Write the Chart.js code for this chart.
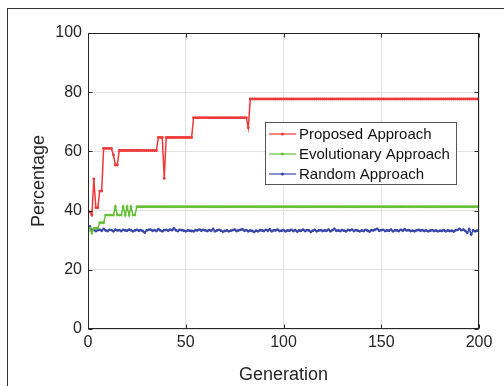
<!DOCTYPE html>
<html>
<head>
<meta charset="utf-8">
<script src="https://cdn.jsdelivr.net/npm/chart.js@4/dist/chart.umd.min.js"></script>
<style>
  html,body{margin:0;padding:0;background:#fff;overflow:hidden;}
  #wrap{position:relative;width:504px;height:386px;}
  #frame{position:absolute;left:7px;top:8px;width:600px;height:500px;border-left:1px solid #333;border-top:1px solid #333;pointer-events:none;}
  canvas{position:absolute;left:0;top:0;}
</style>
</head>
<body>
<div id="wrap">
  <canvas id="c" width="504" height="386"></canvas>
  <div id="frame"></div>
</div>
<script>
// ---- data ----
const seriesNames = ['Proposed Approach', 'Evolutionary Approach', 'Random Approach'];
const xTicks = [0, 50, 100, 150, 200];
const yTicks = [0, 20, 40, 60, 80, 100];

// Proposed approach, generations 0..200
const proposed = [
  39.6, 39.6, 38.5, 50.7, 41, 41, 46.6, 46.6, 61, 61, 61, 61, 61, 58.8, 55.4, 55.4, 60.3,
  60.3, 60.3, 60.3, 60.3, 60.3, 60.3, 60.3, 60.3, 60.3, 60.3, 60.3, 60.3, 60.3, 60.3, 60.3, 60.3, 60.3, 60.3, 60.3,
  64.7, 64.7, 64.7, 50.9,
  64.7, 64.7, 64.7, 64.7, 64.7, 64.7, 64.7, 64.7, 64.7, 64.7, 64.7, 64.7, 64.7, 64.7,
  71.4, 71.4, 71.4, 71.4, 71.4, 71.4, 71.4, 71.4, 71.4, 71.4, 71.4, 71.4, 71.4, 71.4,
  71.4, 71.4, 71.4, 71.4, 71.4, 71.4, 71.4, 71.4, 71.4, 71.4, 71.4, 71.4, 71.4, 71.4,
  68,
  77.7, 77.7, 77.7, 77.7, 77.7, 77.7, 77.7, 77.7, 77.7, 77.7, 77.7, 77.7, 77.7, 77.7, 77.7, 77.7, 77.7,
  77.7, 77.7, 77.7, 77.7, 77.7, 77.7, 77.7, 77.7, 77.7, 77.7, 77.7, 77.7, 77.7, 77.7, 77.7, 77.7, 77.7,
  77.7, 77.7, 77.7, 77.7, 77.7, 77.7, 77.7, 77.7, 77.7, 77.7, 77.7, 77.7, 77.7, 77.7, 77.7, 77.7, 77.7,
  77.7, 77.7, 77.7, 77.7, 77.7, 77.7, 77.7, 77.7, 77.7, 77.7, 77.7, 77.7, 77.7, 77.7, 77.7, 77.7, 77.7,
  77.7, 77.7, 77.7, 77.7, 77.7, 77.7, 77.7, 77.7, 77.7, 77.7, 77.7, 77.7, 77.7, 77.7, 77.7, 77.7, 77.7,
  77.7, 77.7, 77.7, 77.7, 77.7, 77.7, 77.7, 77.7, 77.7, 77.7, 77.7, 77.7, 77.7, 77.7, 77.7, 77.7, 77.7,
  77.7, 77.7, 77.7, 77.7, 77.7, 77.7, 77.7, 77.7, 77.7, 77.7, 77.7, 77.7, 77.7, 77.7, 77.7, 77.7
];

// Evolutionary approach, generations 0..200
const evolutionary = [
  34, 34, 32.4, 34, 34, 34, 35.9, 35.9, 35.9, 38.5, 38.5, 38.5, 38.5, 38.5, 41.3, 38.5, 38.5, 38.5, 41.3, 38.5,
  41.3, 38.5, 41.3, 38.5, 38.5, 41.3,
  41.3, 41.3, 41.3, 41.3, 41.3, 41.3, 41.3, 41.3, 41.3, 41.3, 41.3, 41.3, 41.3, 41.3, 41.3, 41.3, 41.3, 41.3, 41.3, 41.3, 41.3, 41.3, 41.3, 41.3, 41.3, 41.3, 41.3, 41.3, 41.3,
  41.3, 41.3, 41.3, 41.3, 41.3, 41.3, 41.3, 41.3, 41.3, 41.3, 41.3, 41.3, 41.3, 41.3, 41.3, 41.3, 41.3, 41.3, 41.3, 41.3, 41.3, 41.3, 41.3, 41.3, 41.3,
  41.3, 41.3, 41.3, 41.3, 41.3, 41.3, 41.3, 41.3, 41.3, 41.3, 41.3, 41.3, 41.3, 41.3, 41.3, 41.3, 41.3, 41.3, 41.3, 41.3, 41.3, 41.3, 41.3, 41.3, 41.3,
  41.3, 41.3, 41.3, 41.3, 41.3, 41.3, 41.3, 41.3, 41.3, 41.3, 41.3, 41.3, 41.3, 41.3, 41.3, 41.3, 41.3, 41.3, 41.3, 41.3, 41.3, 41.3, 41.3, 41.3, 41.3,
  41.3, 41.3, 41.3, 41.3, 41.3, 41.3, 41.3, 41.3, 41.3, 41.3, 41.3, 41.3, 41.3, 41.3, 41.3, 41.3, 41.3, 41.3, 41.3, 41.3, 41.3, 41.3, 41.3, 41.3, 41.3,
  41.3, 41.3, 41.3, 41.3, 41.3, 41.3, 41.3, 41.3, 41.3, 41.3, 41.3, 41.3, 41.3, 41.3, 41.3, 41.3, 41.3, 41.3, 41.3, 41.3, 41.3, 41.3, 41.3, 41.3, 41.3,
  41.3, 41.3, 41.3, 41.3, 41.3, 41.3, 41.3, 41.3, 41.3, 41.3, 41.3, 41.3, 41.3, 41.3, 41.3, 41.3, 41.3, 41.3, 41.3, 41.3, 41.3, 41.3, 41.3, 41.3, 41.3
];

// Random approach, generations 0..200
const randomApp = [
  33.0, 34.6, 33.2, 33.6, 33.1, 33.4, 33.5, 33.2, 33.8, 33.3,
  33.1, 33.5, 33.4, 33.0, 33.6, 33.3, 33.4, 33.1, 33.5, 33.3,
  33.2, 33.6, 33.4, 33.0, 33.3, 33.5, 33.2, 33.4, 33.1, 32.6,
  33.3, 33.5, 33.6, 33.2, 33.4, 33.1, 33.7, 33.3, 33.0, 33.4,
  33.5, 33.2, 33.6, 33.4, 34.0, 33.3, 33.1, 33.5, 33.4, 33.2,
  33.0, 33.3, 33.2, 33.1, 33.0, 33.4, 33.3, 33.6, 33.2, 33.5,
  33.3, 33.1, 33.4, 33.2, 33.8, 33.0, 33.3, 33.5, 33.2, 32.9,
  33.1, 33.3, 33.0, 33.2, 33.4, 33.6, 33.1, 33.3, 33.5, 33.7,
  33.2, 33.4, 33.0, 33.3, 33.1, 32.8, 33.2, 33.0, 33.4, 33.3,
  33.1, 33.5, 33.2, 33.7, 33.0, 33.4, 33.3, 33.6, 33.1, 33.2,
  33.4, 33.0, 33.3, 33.2, 33.5, 33.1, 33.4, 32.9, 33.3, 33.2,
  33.6, 33.1, 33.4, 33.3, 32.8, 33.2, 33.5, 33.0, 33.3, 33.4,
  33.1, 33.3, 33.2, 33.6, 33.0, 33.4, 33.8, 33.2, 33.3, 33.1,
  33.4, 33.2, 33.0, 33.5, 33.3, 33.6, 33.1, 33.4, 33.2, 33.0,
  33.3, 33.1, 33.5, 33.2, 32.9, 33.4, 33.3, 33.6, 33.8, 33.2,
  33.4, 33.5, 33.1, 33.3, 33.2, 33.6, 33.0, 33.4, 33.3, 33.1,
  33.5, 33.2, 33.7, 33.3, 33.4, 33.1, 33.2, 33.0, 33.3, 33.5,
  33.2, 33.4, 33.1, 33.3, 33.0, 33.2, 33.4, 33.1, 33.3, 33.0,
  33.2, 33.1, 33.4, 33.0, 33.3, 33.1, 33.2, 32.9, 33.3, 33.5,
  33.8, 33.4, 33.6, 33.1, 32.5, 33.7, 31.9, 33.4, 33.0, 33.2,
  33.1
];

const colors = ['#f03838', '#66bf38', '#3847a8'];
const toPoints = arr => arr.map((v, i) => ({x: i, y: v}));
const allSeries = [proposed, evolutionary, randomApp];

const FONT = '"Liberation Sans", Arial, sans-serif';
const INK = '#262626';

const boxPlugin = {
  id: 'boxPlugin',
  afterDatasetsDraw(chart) {
    const {ctx, chartArea: {left, right, top, bottom}, scales: {x, y}} = chart;
    ctx.save();
    ctx.strokeStyle = INK;
    ctx.lineWidth = 1;
    const L = Math.round(left) + 0.5, R = Math.round(right) - 0.5;
    const T = Math.round(top) + 0.5, B = Math.round(bottom) - 0.5;
    ctx.beginPath();
    xTicks.forEach(v => {
      const px = Math.round(x.getPixelForValue(v)) + 0.5;
      ctx.moveTo(px, B); ctx.lineTo(px, B - 4);
      ctx.moveTo(px, T); ctx.lineTo(px, T + 4);
    });
    yTicks.forEach(v => {
      const py = Math.round(y.getPixelForValue(v)) + 0.5;
      ctx.moveTo(L, py); ctx.lineTo(L + 4, py);
      ctx.moveTo(R, py); ctx.lineTo(R - 4, py);
    });
    ctx.stroke();
    ctx.strokeRect(L, T, R - L, B - T);

    // legend
    const lx = 265.5, ly = 122.5, lw = 191, lh = 62;
    ctx.fillStyle = '#fff';
    ctx.fillRect(lx, ly, lw, lh);
    ctx.strokeStyle = '#555';
    ctx.strokeRect(lx, ly, lw, lh);
    ctx.font = '15px ' + FONT;
    ctx.textBaseline = 'middle';
    ctx.textAlign = 'left';
    const rows = [134, 154, 174];
    seriesNames.forEach((name, i) => {
      const cy = rows[i];
      ctx.strokeStyle = colors[i];
      ctx.lineWidth = 1.2;
      ctx.beginPath();
      ctx.moveTo(269, cy); ctx.lineTo(296, cy);
      ctx.stroke();
      ctx.fillStyle = colors[i];
      ctx.beginPath(); ctx.arc(282.5, cy, 1.6, 0, Math.PI * 2); ctx.fill();
      ctx.fillStyle = '#111';
      ctx.fillText(name, 299, cy + 1);
    });
    ctx.restore();
  }
};

new Chart(document.getElementById('c'), {
  type: 'line',
  data: {
    datasets: allSeries.map((arr, i) => ({
      label: seriesNames[i],
      data: toPoints(arr),
      borderColor: colors[i],
      backgroundColor: colors[i],
      borderWidth: 1.5,
      pointRadius: 1.4,
      pointBorderWidth: 0,
      pointBackgroundColor: colors[i],
      tension: 0,
      fill: false
    }))
  },
  options: {
    responsive: false,
    animation: false,
    events: [],
    layout: {padding: {left: 0, top: 33, right: 25, bottom: 0}},
    plugins: {legend: {display: false}, tooltip: {enabled: false}},
    scales: {
      x: {
        type: 'linear', min: 0, max: 200,
        afterFit: s => { s.height = 57; },
        afterBuildTicks: s => { s.ticks = xTicks.map(v => ({value: v})); },
        ticks: {font: {family: FONT, size: 16}, color: INK, padding: 4, maxRotation: 0},
        grid: {color: '#e2e2e2', drawTicks: false},
        border: {display: false},
        title: {display: true, text: 'Generation', font: {family: FONT, size: 18}, color: INK, padding: {top: 0, bottom: 0}}
      },
      y: {
        min: 0, max: 100,
        afterFit: s => { s.width = 88; },
        afterBuildTicks: s => { s.ticks = yTicks.map(v => ({value: v})); },
        ticks: {font: {family: FONT, size: 16}, color: INK, padding: 6},
        grid: {color: '#e2e2e2', drawTicks: false},
        border: {display: false},
        title: {display: true, text: 'Percentage', font: {family: FONT, size: 18}, color: INK, padding: {top: 28, bottom: 0}}
      }
    }
  },
  plugins: [boxPlugin]
});
</script>
</body>
</html>
